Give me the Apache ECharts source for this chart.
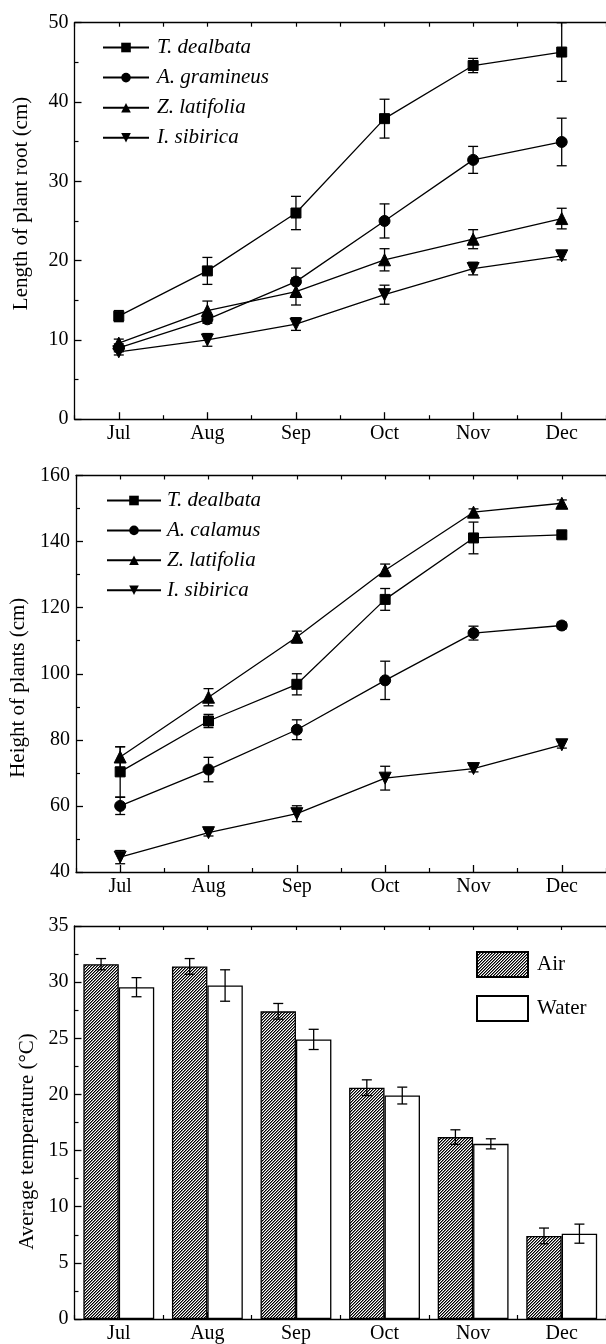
<!DOCTYPE html>
<html>
<head>
<meta charset="utf-8">
<script src="https://cdn.jsdelivr.net/npm/echarts@6/dist/echarts.min.js"></script>
<style>
html,body{margin:0;padding:0;background:#fff;}
#chart{width:606px;height:1344px;}
</style>
</head>
<body>
<div id="chart"></div>
<script>
// ---- data ----
const months = ['Jul', 'Aug', 'Sep', 'Oct', 'Nov', 'Dec'];

// Panel 1: Length of plant root (cm)
const rootTD = [13.0, 18.7, 26.0, 37.9, 44.6, 46.3];
const rootTDErr = [0.7, 1.7, 2.1, 2.45, 0.9, 3.7];
const rootAG = [9.0, 12.6, 17.35, 25.0, 32.7, 34.96];
const rootAGErr = [0.5, 0.5, 1.7, 2.15, 1.7, 3.0];
const rootZL = [9.6, 13.7, 16.1, 20.1, 22.7, 25.3];
const rootZLErr = [0.5, 1.2, 1.7, 1.4, 1.2, 1.3];
const rootIS = [8.5, 10.0, 12.0, 15.7, 19.0, 20.6];
const rootISErr = [0.4, 0.8, 0.8, 1.2, 0.8, 0.5];

// Panel 2: Height of plants (cm)
const hTD = [70.3, 85.7, 96.8, 122.5, 141.1, 142.05];
const hTDErr = [7.6, 2.0, 3.2, 3.3, 4.8, 1.0];
const hAC = [60.0, 71.0, 83.06, 98.0, 112.3, 114.6];
const hACErr = [2.6, 3.7, 3.0, 5.8, 2.1, 1.0];
const hZL = [74.8, 92.9, 111.1, 131.3, 148.9, 151.6];
const hZLErr = [3.1, 2.6, 1.8, 1.9, 1.0, 1.0];
const hIS = [44.5, 51.9, 57.65, 68.4, 71.3, 78.5];
const hISErr = [2.0, 1.0, 2.4, 3.6, 1.0, 1.0];

// Panel 3: Average temperature (°C)
const tempAir = [31.6, 31.4, 27.4, 20.6, 16.2, 7.4];
const tempAirErr = [0.5, 0.7, 0.7, 0.7, 0.65, 0.7];
const tempWater = [29.55, 29.7, 24.9, 19.9, 15.6, 7.6];
const tempWaterErr = [0.85, 1.4, 0.9, 0.75, 0.45, 0.85];

// ---- helpers ----
const FONT = 'Liberation Serif';
const chart = echarts.init(document.getElementById('chart'), null, {renderer: 'canvas'});

function hatch() {
  const c = document.createElement('canvas');
  c.width = 6; c.height = 6;
  const ctx = c.getContext('2d');
  const img = ctx.createImageData(6, 6);
  for (let y = 0; y < 6; y++) for (let x = 0; x < 6; x++) {
    const m = (x + y) % 3;
    const v = m === 0 ? 0 : (m === 1 ? 120 : 255);
    const k = (y * 6 + x) * 4;
    img.data[k] = v; img.data[k + 1] = v; img.data[k + 2] = v; img.data[k + 3] = 255;
  }
  ctx.putImageData(img, 0, 0);
  return {image: c, repeat: 'repeat'};
}

function errData(vals, errs) {
  return vals.map((v, i) => [i, v, errs[i]]);
}
function errSeries(vals, errs, gridIdx, offset) {
  return {
    type: 'custom',
    xAxisIndex: gridIdx * 4,
    yAxisIndex: gridIdx,
    z: 3,
    silent: true,
    encode: {x: 0, y: 1},
    data: errData(vals, errs),
    renderItem: function (params, api) {
      const i = api.value(0), v = api.value(1), e = api.value(2);
      const bw = api.size([1, 0])[0];
      const top = api.coord([i, v + e]);
      const bot = api.coord([i, v - e]);
      const x = top[0] + offset * bw;
      const cw = 5;
      const st = {stroke: '#000', lineWidth: 1.3};
      return {
        type: 'group',
        children: [
          {type: 'line', shape: {x1: x, y1: top[1], x2: x, y2: bot[1]}, style: st},
          {type: 'line', shape: {x1: x - cw, y1: top[1], x2: x + cw, y2: top[1]}, style: st},
          {type: 'line', shape: {x1: x - cw, y1: bot[1], x2: x + cw, y2: bot[1]}, style: st}
        ]
      };
    }
  };
}
function lineSeries(name, vals, gridIdx, symbol, size, rot) {
  return {
    name: name,
    type: 'line',
    xAxisIndex: gridIdx * 4,
    yAxisIndex: gridIdx,
    data: vals,
    symbol: symbol,
    symbolSize: size,
    symbolRotate: rot || 0,
    z: 4,
    lineStyle: {color: '#000', width: 1.3},
    itemStyle: {color: '#000', borderColor: '#000'},
    emphasis: {disabled: true}
  };
}

const GRID_LEFT = 74.5, GRID_W = 534, GRID_H = 396.5;
const gridTops = [22.7, 475.5, 926];

const xAxes = [];
gridTops.forEach((t, g) => {
  const base = {
    type: 'category', data: months, gridIndex: g, boundaryGap: true,
    axisLine: {show: true, lineStyle: {color: '#000', width: 1.3}},
    splitLine: {show: false}
  };
  // bottom main with labels + centered ticks
  xAxes.push(Object.assign({}, base, {
    position: 'bottom',
    axisTick: {show: true, inside: true, alignWithLabel: true, interval: 0, length: 7, lineStyle: {color: '#000', width: 1.3}},
    axisLabel: {show: true, interval: 0, color: '#000', fontFamily: FONT, fontSize: 20, margin: 5}
  }));
  // bottom boundary ticks
  xAxes.push(Object.assign({}, base, {
    position: 'bottom',
    axisLine: {show: false},
    axisTick: {show: true, inside: true, alignWithLabel: false, interval: 0, length: 4, lineStyle: {color: '#000', width: 1.2}},
    axisLabel: {show: false}
  }));
  // top centered ticks
  xAxes.push(Object.assign({}, base, {
    position: 'top',
    axisTick: {show: true, inside: true, alignWithLabel: true, interval: 0, length: 4, lineStyle: {color: '#000', width: 1.2}},
    axisLabel: {show: false}
  }));
  // top boundary ticks
  xAxes.push(Object.assign({}, base, {
    position: 'top',
    axisLine: {show: false},
    axisTick: {show: true, inside: true, alignWithLabel: false, interval: 0, length: 4, lineStyle: {color: '#000', width: 1.2}},
    axisLabel: {show: false}
  }));
});

function yAxis(g, min, max, interval, name, gap, pad) {
  return {
    type: 'value', gridIndex: g, min: min, max: max, interval: interval,
    name: name, nameLocation: 'middle', nameGap: gap, nameRotate: 90,
    nameTextStyle: {color: '#000', fontFamily: FONT, fontSize: 21, padding: pad},
    axisLine: {show: true, lineStyle: {color: '#000', width: 1.3}},
    axisTick: {show: true, inside: true, length: 7, lineStyle: {color: '#000', width: 1.3}},
    minorTick: {show: true, splitNumber: 2, length: 4, lineStyle: {color: '#000', width: 1.2}},
    splitLine: {show: false},
    axisLabel: {color: '#000', fontFamily: FONT, fontSize: 20, margin: 6}
  };
}

const hatchFill = hatch();

const option = {
  animation: false,
  backgroundColor: '#fff',
  grid: gridTops.map(t => ({left: GRID_LEFT, top: t, width: GRID_W, height: GRID_H, containLabel: false})),
  xAxis: xAxes,
  yAxis: [
    yAxis(0, 0, 50, 10, 'Length of plant root (cm)', 43, [0, 0, 0, 35]),
    yAxis(1, 40, 160, 20, 'Height of plants (cm)', 47, [0, 28, 0, 0]),
    yAxis(2, 0, 35, 5, 'Average temperature (°C)', 37, [0, 38, 0, 0])
  ],
  legend: [
    {
      orient: 'vertical', left: 102, top: 37, padding: 0, itemWidth: 46, itemHeight: 12, itemGap: 9.1,
      selectedMode: false,
      data: ['T. dealbata', 'A. gramineus', 'Z. latifolia', 'I. sibirica'],
      textStyle: {color: '#000', fontFamily: FONT, fontSize: 21, fontStyle: 'italic', padding: [0, 0, 0, 3]}
    },
    {
      orient: 'vertical', left: 106, top: 490, padding: 0, itemWidth: 54, itemHeight: 12, itemGap: 8.9,
      selectedMode: false,
      data: ['T. dealbata ', 'A. calamus', 'Z. latifolia ', 'I. sibirica '],
      textStyle: {color: '#000', fontFamily: FONT, fontSize: 21, fontStyle: 'italic', padding: [0, 0, 0, 1]}
    },
    {
      orient: 'vertical', left: 476, top: 951, padding: 0, itemWidth: 51, itemHeight: 25, itemGap: 17,
      selectedMode: false, icon: 'rect',
      data: ['Air', 'Water'],
      textStyle: {color: '#000', fontFamily: FONT, fontSize: 21, padding: [0, 0, 0, 4]}
    }
  ],
  series: [
    errSeries(rootTD, rootTDErr, 0, 0),
    errSeries(rootAG, rootAGErr, 0, 0),
    errSeries(rootZL, rootZLErr, 0, 0),
    errSeries(rootIS, rootISErr, 0, 0),
    lineSeries('T. dealbata', rootTD, 0, 'rect', 10),
    lineSeries('A. gramineus', rootAG, 0, 'circle', 11),
    lineSeries('Z. latifolia', rootZL, 0, 'triangle', 12),
    lineSeries('I. sibirica', rootIS, 0, 'triangle', 12, 180),

    errSeries(hTD, hTDErr, 1, 0),
    errSeries(hAC, hACErr, 1, 0),
    errSeries(hZL, hZLErr, 1, 0),
    errSeries(hIS, hISErr, 1, 0),
    lineSeries('T. dealbata ', hTD, 1, 'rect', 10),
    lineSeries('A. calamus', hAC, 1, 'circle', 11),
    lineSeries('Z. latifolia ', hZL, 1, 'triangle', 12),
    lineSeries('I. sibirica ', hIS, 1, 'triangle', 12, 180),

    {
      name: 'Air', type: 'bar', xAxisIndex: 8, yAxisIndex: 2, data: tempAir,
      barCategoryGap: '20%', barGap: '0%', z: 2,
      itemStyle: {color: hatchFill, borderColor: '#000', borderWidth: 1.3},
      emphasis: {disabled: true}
    },
    {
      name: 'Water', type: 'bar', xAxisIndex: 8, yAxisIndex: 2, data: tempWater,
      barCategoryGap: '20%', barGap: '0%', z: 2,
      itemStyle: {color: '#fff', borderColor: '#000', borderWidth: 1.3},
      emphasis: {disabled: true}
    },
    errSeries(tempAir, tempAirErr, 2, -0.2),
    errSeries(tempWater, tempWaterErr, 2, 0.2)
  ]
};
chart.setOption(option);
</script>
</body>
</html>
